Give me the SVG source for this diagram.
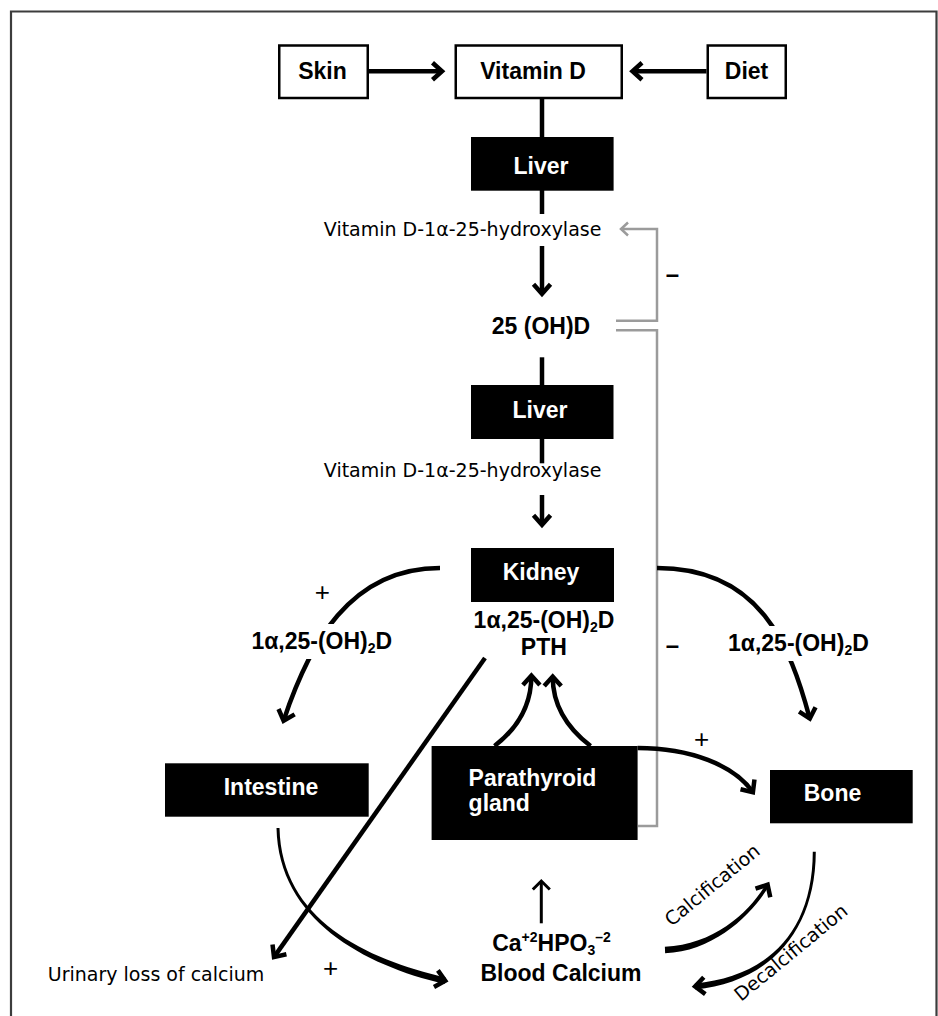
<svg xmlns="http://www.w3.org/2000/svg" width="938" height="1016" viewBox="0 0 938 1016">
<style>
.frame{fill:none;stroke:#3c3c3c;stroke-width:2.2}
.wbox{fill:#fff;stroke:#000;stroke-width:2.5}
.bbox{fill:#000}
.con{fill:none;stroke:#000;stroke-width:4.5}
.taper{fill:#000;stroke:none}
.guide{fill:none;stroke:none}
.thin{fill:none;stroke:#000;stroke-width:3}
.fb{fill:none;stroke:#9b9b9b;stroke-width:2.5}
.b{font-family:"Liberation Sans",Arial,sans-serif;font-weight:bold;font-size:23px;fill:#000}
.w{fill:#fff}
.r{font-family:"DejaVu Sans",sans-serif;font-size:19px;fill:#000}
.sign{font-family:"Liberation Sans",Arial,sans-serif;font-size:26px;fill:#000}
.dash{font-family:"Liberation Sans",Arial,sans-serif;font-size:24px;font-weight:bold;fill:#000}
.m{text-anchor:middle}
.bg{fill:#fff}
</style>
<defs>
<marker id="ah" markerUnits="userSpaceOnUse" viewBox="-15 -15 30 30" markerWidth="30" markerHeight="30" refX="0" refY="0" orient="auto" overflow="visible">
<path d="M -9.5 -8.5 L 0 0 L -9.5 8.5" fill="none" stroke="#000" stroke-width="4.5"/>
</marker>
<marker id="ahs" markerUnits="userSpaceOnUse" viewBox="-15 -15 30 30" markerWidth="30" markerHeight="30" refX="0" refY="0" orient="auto" overflow="visible">
<path d="M -8.5 -8.5 L 0 0 L -8.5 8.5" fill="none" stroke="#000" stroke-width="3"/>
</marker>
<marker id="ahg" markerUnits="userSpaceOnUse" viewBox="-15 -15 30 30" markerWidth="30" markerHeight="30" refX="0" refY="0" orient="auto" overflow="visible">
<path d="M -7 -6.5 L 0 0 L -7 6.5" fill="none" stroke="#9b9b9b" stroke-width="2.5"/>
</marker>
</defs>
<rect width="938" height="1016" fill="#fff"/>
<path class="frame" d="M 11 1030 V 11.5 H 936.5 V 1030"/>

<g id="connectors">
<line class="con" x1="369" y1="71.3" x2="442" y2="71.3" marker-end="url(#ah)"/>
<line class="con" x1="706.5" y1="71.3" x2="632.5" y2="71.3" marker-end="url(#ah)"/>
<line class="con" x1="542" y1="99" x2="542" y2="137"/>
<line class="con" x1="542" y1="190" x2="542" y2="214"/>
<line class="con" x1="542" y1="246" x2="542" y2="293.8" marker-end="url(#ah)"/>
<line class="con" x1="542" y1="357.3" x2="542" y2="385"/>
<line class="con" x1="542" y1="439" x2="542" y2="463.3"/>
<line class="con" x1="542" y1="495" x2="542" y2="524.8" marker-end="url(#ah)"/>
<path class="fb" d="M 616 320.7 H 657 V 229 H 621" marker-end="url(#ahg)"/>
<path class="fb" d="M 616 330.3 H 657 V 826 H 638"/>
<path class="con" d="M 440 568 C 350 568 309 644 283.6 720.7" marker-end="url(#ah)"/>
<path class="con" d="M 657 568 C 760 568 790 645 809.8 718.6" marker-end="url(#ah)"/>
<path class="con" d="M 637.6 748 C 690 748 734 765 752.9 792.2" marker-end="url(#ah)"/>
<path class="con" d="M 494.5 746 C 522 725 531.4 700 531.4 675.5" marker-end="url(#ah)"/>
<path class="con" d="M 590.6 746 C 563 725 552.7 700 552.7 676.5" marker-end="url(#ah)"/>
<line class="con" x1="485" y1="658" x2="274" y2="957.1" marker-end="url(#ah)"/>
<path class="taper" d="M 276.5 828 C 278.5 920 364.26 965.16 444.46 983.96 L 445.94 977.64 C 365.74 958.84 281.5 920 279.5 828 Z"/>
<path class="guide" d="M 278 828 C 280 920 365 962 445.2 980.8" marker-end="url(#ah)"/>
<line class="thin" x1="541.3" y1="923.3" x2="541.3" y2="881" marker-end="url(#ahs)"/>
<path class="taper" d="M 665.13 953.25 C 715.13 951.25 753.52 912.87 769.12 885.57 L 766.08 883.83 C 750.48 911.13 714.87 944.75 664.87 946.75 Z"/>
<path class="guide" d="M 665 950 C 715 948 752 912 767.6 884.7" marker-end="url(#ah)"/>
<path class="taper" d="M 812.8 851.7 C 812.5 935 764.72 977.01 694.82 983.51 L 695.38 989.49 C 765.28 982.99 815.5 935 815.8 851.7 Z"/>
<path class="guide" d="M 814.3 851.7 C 814 935 765 980 695.1 986.5" marker-end="url(#ah)"/>
</g>

<g id="label-backs">
<rect class="bg" x="245" y="624" width="155" height="35"/>
<rect class="bg" x="722" y="626" width="155" height="35"/>
</g>

<g id="skin"><rect class="wbox" x="279.25" y="45.5" width="88.5" height="52.5"/><text class="b m" x="322.5" y="79">Skin</text></g>
<g id="vitamin-d"><rect class="wbox" x="455.75" y="45.5" width="166" height="52.5"/><text class="b m" x="533" y="79">Vitamin D</text></g>
<g id="diet"><rect class="wbox" x="707.75" y="45.5" width="78" height="52.5"/><text class="b m" x="746.5" y="79">Diet</text></g>
<g id="liver-1"><rect class="bbox" x="471" y="137" width="142.6" height="53.7"/><text class="b m w" x="541" y="173.5">Liver</text></g>
<g id="hydroxylase-1"><text class="r m" x="462.6" y="235.7">Vitamin D-1α-25-hydroxylase</text></g>
<g id="ohd-25"><text class="b m" x="541" y="334">25 (OH)D</text></g>
<g id="liver-2"><rect class="bbox" x="471" y="385" width="142.5" height="54"/><text class="b m w" x="540" y="418">Liver</text></g>
<g id="hydroxylase-2"><text class="r m" x="462.6" y="476.7">Vitamin D-1α-25-hydroxylase</text></g>
<g id="kidney"><rect class="bbox" x="471" y="548" width="143" height="54"/><text class="b m w" x="541" y="580">Kidney</text>
<text class="b m" x="544" y="628.3">1α,25-(OH)<tspan font-size="14" dy="4">2</tspan><tspan dy="-4">D</tspan></text>
<text class="b m" x="543.8" y="655">PTH</text></g>
<g id="intestine"><rect class="bbox" x="165" y="763.3" width="203.7" height="53.4"/><text class="b m w" x="271" y="795">Intestine</text></g>
<g id="parathyroid"><rect class="bbox" x="431.6" y="746" width="206" height="94"/><text class="b w" font-size="22" x="468.6" y="786">Parathyroid</text><text class="b w" font-size="22" x="468.6" y="811">gland</text></g>
<g id="bone"><rect class="bbox" x="770" y="770" width="142.7" height="53.3"/><text class="b m w" x="832.5" y="801">Bone</text></g>
<g id="blood-calcium">
<text class="b m" x="551.5" y="951">Ca<tspan font-size="14" dy="-9">+2</tspan><tspan dy="9">HPO</tspan><tspan font-size="14" dy="4">3</tspan><tspan font-size="14" dy="-13">–2</tspan></text>
<text class="b m" x="561" y="981">Blood Calcium</text>
</g>
<g id="urinary-loss"><text class="r" x="47.8" y="980.7">Urinary loss of calcium</text></g>

<g id="labels">
<text class="b m" x="321.8" y="649">1α,25-(OH)<tspan font-size="14" dy="4">2</tspan><tspan dy="-4">D</tspan></text>
<text class="b m" x="798.4" y="650.7">1α,25-(OH)<tspan font-size="14" dy="4">2</tspan><tspan dy="-4">D</tspan></text>
<text class="sign m" x="322.4" y="601">+</text>
<text class="sign m" x="701.7" y="748">+</text>
<text class="sign m" x="330.7" y="977">+</text>
<text class="dash m" x="672.5" y="282">–</text>
<text class="dash m" x="672.5" y="653">–</text>
<text class="r" font-size="19.5" transform="translate(671.5,927) rotate(-39.4)">Calcification</text>
<text class="r" font-size="19.5" transform="translate(741,1002) rotate(-39.4)">Decalcification</text>
</g>
</svg>
